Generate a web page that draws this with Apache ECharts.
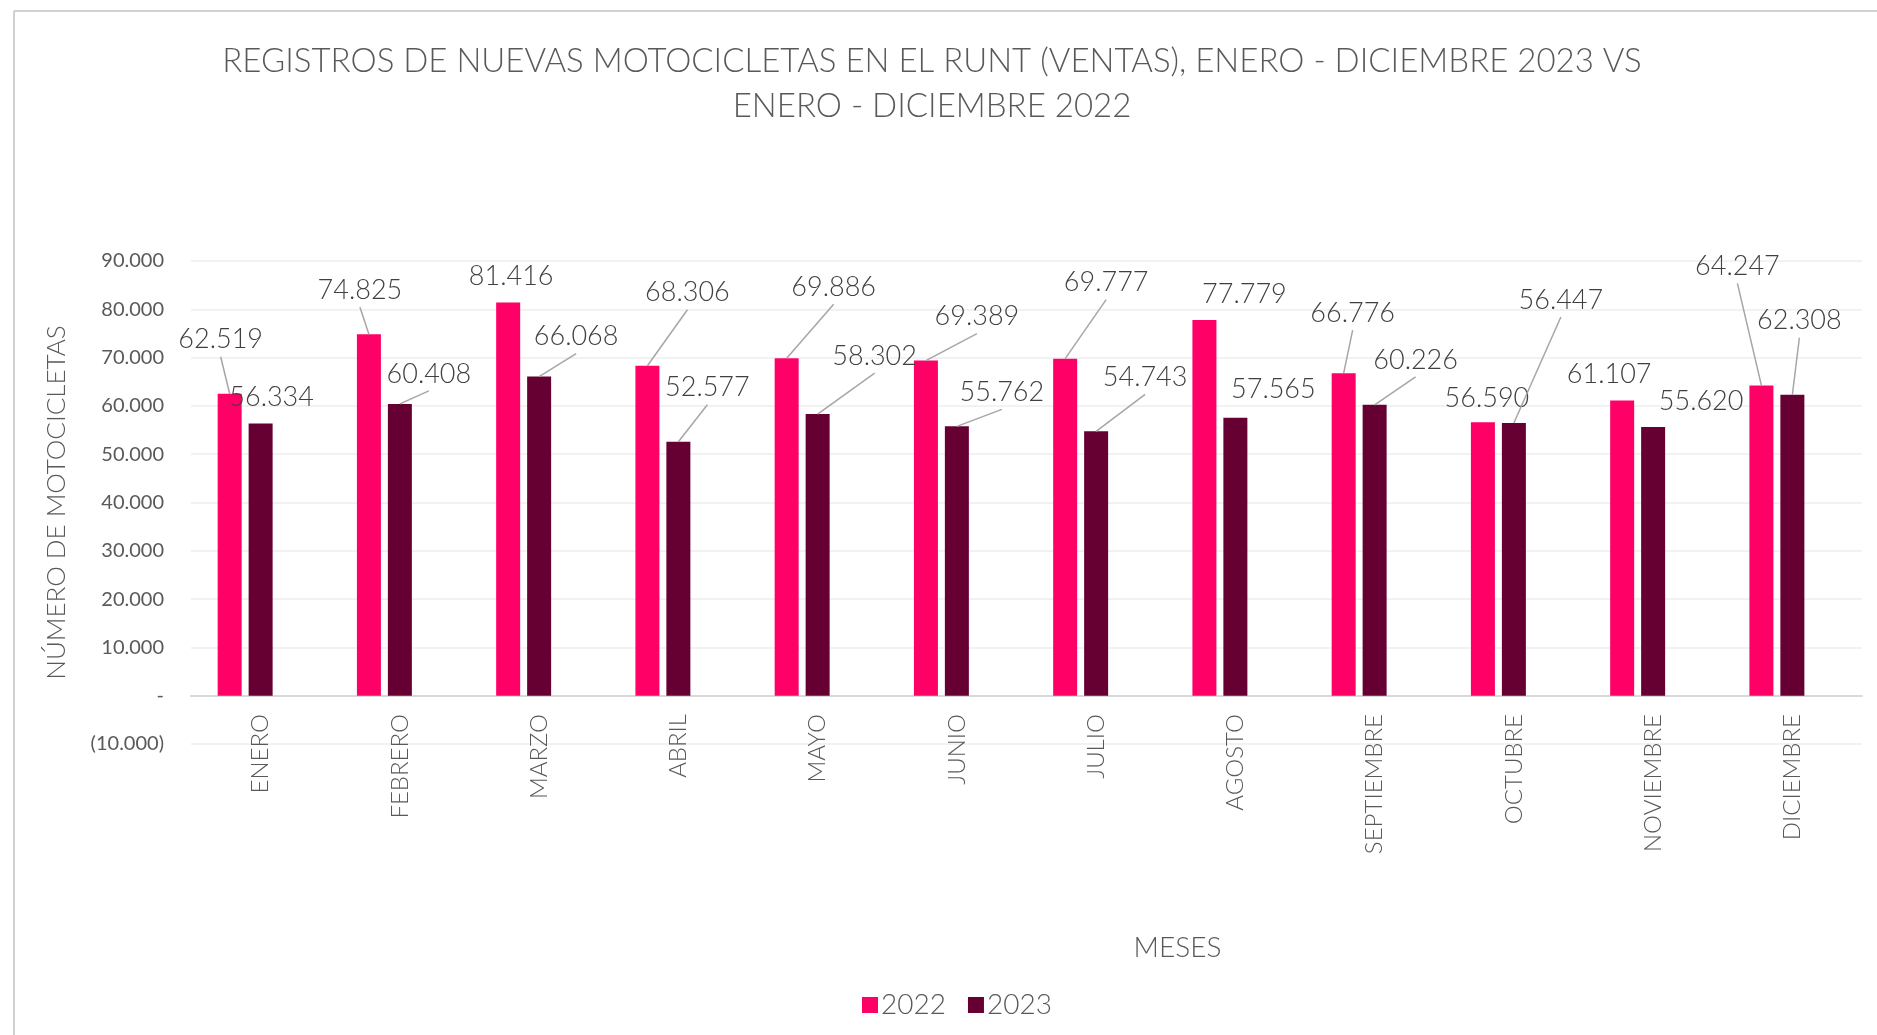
<!DOCTYPE html>
<html>
<head>
<meta charset="utf-8">
<script src="https://cdn.jsdelivr.net/npm/echarts@6/dist/echarts.min.js"></script>
<style>
html,body{margin:0;padding:0;background:#fff;}
#chart{width:1877px;height:1035px;}
</style>
</head>
<body>
<div id="chart"></div>
<script>
// ---- data ----
const months = ['ENERO','FEBRERO','MARZO','ABRIL','MAYO','JUNIO','JULIO','AGOSTO','SEPTIEMBRE','OCTUBRE','NOVIEMBRE','DICIEMBRE'];
const ventas2022 = [62519, 74825, 81416, 68306, 69886, 69389, 69777, 77779, 66776, 56590, 61107, 64247];
const ventas2023 = [56334, 60408, 66068, 52577, 58302, 55762, 54743, 57565, 60226, 56447, 55620, 62308];
const yTicks = [-10000, 0, 10000, 20000, 30000, 40000, 50000, 60000, 70000, 80000, 90000];

// ---- label layout (offset of label centre from bar top-centre, px) ----
const off2022 = [[-9,-54],[-9,-44],[3,-26],[40,-73],[47,-71],[51,-44],[41,-76],[40,-26],[9,-60],[4,-24],[-13,-26],[-24,-119]];
const off2023 = [[11,-26],[29,-30],[37,-40],[29,-54],[57,-58],[45,-34],[49,-54],[38,-28],[41,-45],[47,-123],[48,-26],[7,-74]];
const line2022 = [1,1,0,1,1,1,1,0,1,0,0,1];
const line2023 = [0,1,1,1,1,1,1,0,1,1,0,1];

const FONT = 'Lato, "Open Sans", sans-serif';
const BORDER = [
  {id: 'bt', type: 'line', shape: {x1: 14, y1: 11, x2: 1877, y2: 11}, style: {stroke: '#d0d0d0', lineWidth: 2}, silent: true},
  {id: 'bl', type: 'line', shape: {x1: 14, y1: 11, x2: 14, y2: 1035}, style: {stroke: '#d0d0d0', lineWidth: 2}, silent: true}
];
function fmt(v){
  return String(Math.abs(v)).replace(/\B(?=(\d{3})+(?!\d))/g, '.');
}
function layoutFor(offs){
  return function(p){
    const o = offs[p.dataIndex];
    return {
      x: p.rect.x + p.rect.width/2 + o[0],
      y: p.rect.y + o[1],
      align: 'center',
      verticalAlign: 'middle'
    };
  };
}
const labelCfg = {
  show: true,
  position: 'top',
  formatter: p => fmt(p.value),
  fontFamily: FONT,
  fontSize: 27,
  fontWeight: 300,
  color: '#404040'
};

const chart = echarts.init(document.getElementById('chart'));
chart.setOption({
  backgroundColor: '#ffffff',
  animation: false,
  title: {
    text: 'REGISTROS DE NUEVAS MOTOCICLETAS EN EL RUNT (VENTAS), ENERO - DICIEMBRE 2023 VS\nENERO - DICIEMBRE 2022',
    left: 927,
    top: 34,
    textAlign: 'center',
    textStyle: {fontFamily: FONT, fontSize: 33, fontWeight: 300, color: '#595959', lineHeight: 45}
  },
  legend: {
    data: ['2022','2023'],
    left: 857,
    top: 986,
    itemWidth: 16,
    itemHeight: 16,
    itemGap: 22,
    icon: 'rect',
    textStyle: {fontFamily: FONT, fontSize: 28, fontWeight: 300, color: '#595959', padding: [0,0,0,-2]}
  },
  grid: {left: 191, right: 15, top: 261, bottom: 291, containLabel: false},
  xAxis: {
    type: 'category',
    data: months,
    name: 'MESES',
    nameLocation: 'middle',
    nameGap: 190,
    nameTextStyle: {fontFamily: FONT, fontSize: 28, fontWeight: 300, color: '#595959', padding: [0,0,0,302]},
    axisLine: {show: true, onZero: true, lineStyle: {color: '#d9d9d9', width: 2}},
    axisTick: {show: false},
    axisLabel: {rotate: 90, margin: -30, fontFamily: FONT, fontSize: 24, fontWeight: 300, color: '#595959', interval: 0}
  },
  yAxis: {
    type: 'value',
    min: yTicks[0],
    max: yTicks[yTicks.length-1],
    interval: 10000,
    name: 'NÚMERO DE MOTOCICLETAS',
    nameLocation: 'middle',
    nameGap: 121,
    nameRotate: 90,
    nameTextStyle: {fontFamily: FONT, fontSize: 26, fontWeight: 300, color: '#595959'},
    axisLine: {show: false},
    axisTick: {show: false},
    splitLine: {lineStyle: {color: '#f2f2f2', width: 2}},
    axisLabel: {
      margin: 27,
      fontFamily: FONT, fontSize: 20, color: '#595959',
      formatter: v => v === 0 ? '-' : (v < 0 ? '(' + fmt(v) + ')' : fmt(v))
    }
  },
  series: [
    {
      name: '2022', type: 'bar', barWidth: 24, barGap: '29%',
      itemStyle: {color: '#FF0066'},
      data: ventas2022,
      label: labelCfg,
      labelLayout: layoutFor(off2022)
    },
    {
      name: '2023', type: 'bar', barWidth: 24, barGap: '29%',
      itemStyle: {color: '#660033'},
      data: ventas2023,
      label: labelCfg,
      labelLayout: layoutFor(off2023)
    },
    {
      name: 'vacío', type: 'bar', barWidth: 24, barGap: '29%',
      data: months.map(()=>null)
    }
  ],
  graphic: BORDER
});

// leader lines: from each moved label to the top centre of its bar (bar geometry from the library layout)
function leaderLines(){
  const model = chart.getModel();
  const els = [];
  [[0, off2022, line2022], [1, off2023, line2023]].forEach(([si, offs, flags]) => {
    const data = model.getSeriesByIndex(si).getData();
    for (let i = 0; i < data.count(); i++) {
      if (!flags[i]) continue;
      const l = data.getItemLayout(i);
      if (!l) continue;
      const tx = l.x + l.width/2;
      const ty = Math.min(l.y, l.y + l.height);
      const sx = tx + offs[i][0];
      const sy = ty + offs[i][1] + 17;
      els.push({type: 'line', shape: {x1: sx, y1: sy, x2: tx, y2: ty},
        style: {stroke: '#a6a6a6', lineWidth: 1.5}, silent: true, z: 5});
    }
  });
  return els;
}
chart.setOption({graphic: BORDER.concat(leaderLines())}, {replaceMerge: ['graphic']});
</script>
</body>
</html>
